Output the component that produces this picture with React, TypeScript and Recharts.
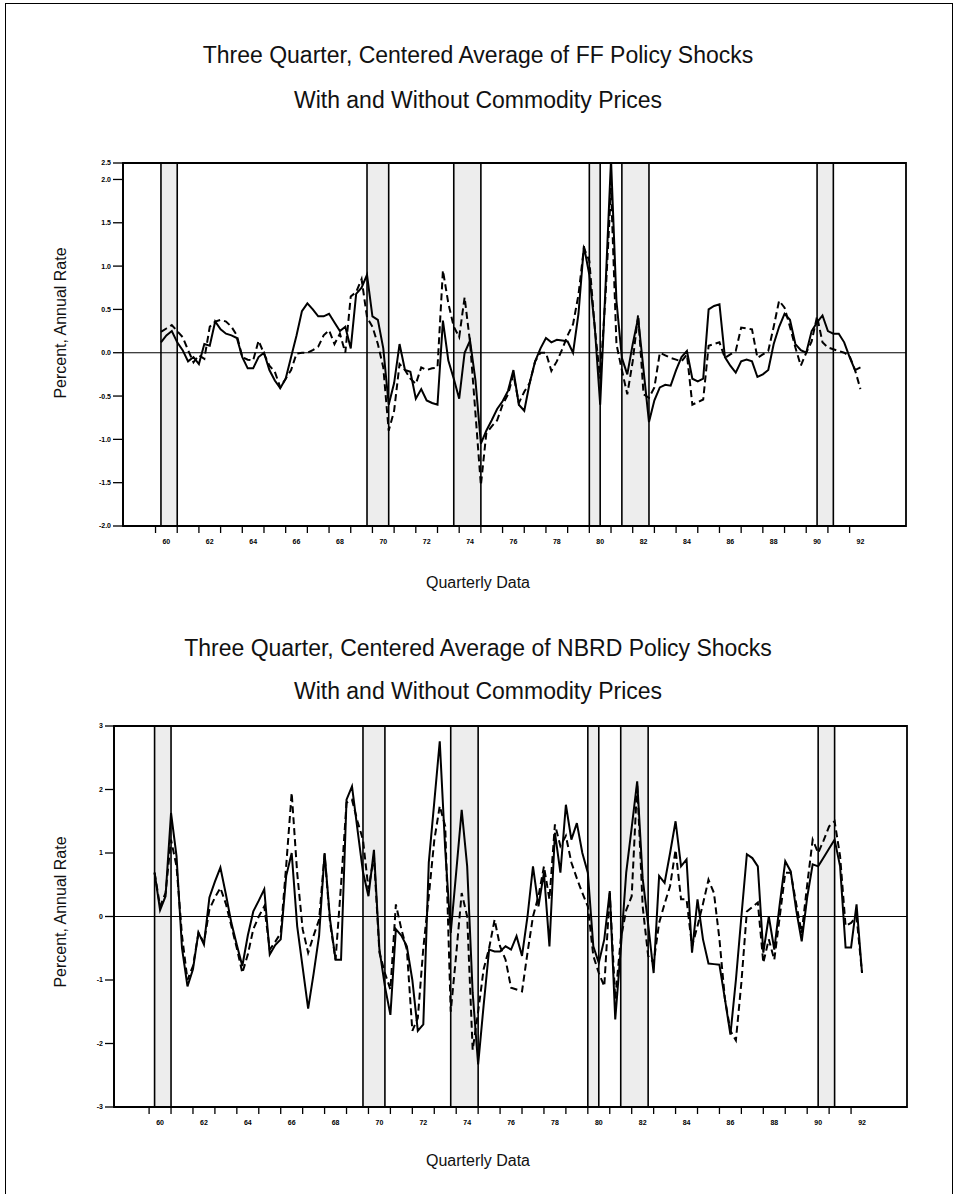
import React from "react";
import {
  ComposedChart,
  Line,
  XAxis,
  YAxis,
  ReferenceArea,
  ReferenceLine,
} from "recharts";

// first quarter plotted (1960 Q2), one value per quarter after it
const START = 1960.25;

const ffSolid = [
  0.12, 0.2, 0.25, 0.12, 0.03, -0.1, -0.05, -0.13, 0.1, 0.08,
  0.36, 0.27, 0.22, 0.2, 0.17, -0.05, -0.18, -0.18, -0.05, 0.0,
  -0.2, -0.32, -0.41, -0.3, -0.05, 0.2, 0.48, 0.57, 0.5, 0.42,
  0.42, 0.45, 0.35, 0.25, 0.3, 0.05, 0.68, 0.75, 0.9, 0.42,
  0.38, 0.05, -0.6, -0.35, 0.1, -0.2, -0.22, -0.53, -0.42, -0.55,
  -0.58, -0.6, 0.37, -0.09, -0.3, -0.53, 0.0, 0.14, -0.32, -1.05,
  -0.9, -0.78, -0.65, -0.56, -0.44, -0.2, -0.6, -0.67, -0.35, -0.1,
  0.05, 0.17, 0.12, 0.15, 0.14, 0.13, 0.0, 0.45, 1.23, 0.9,
  0.3, -0.6, 0.78, 2.23, 0.6, -0.06, -0.25, 0.1, 0.4, -0.2,
  -0.8, -0.55, -0.4, -0.37, -0.38, -0.2, -0.05, 0.02, -0.3, -0.33,
  -0.3, 0.5, 0.54, 0.56, -0.05, -0.15, -0.23, -0.1, -0.08, -0.1,
  -0.28, -0.25, -0.2, 0.1, 0.3, 0.45, 0.38, 0.1, 0.03, 0.0,
  0.25, 0.35, 0.43, 0.25, 0.22, 0.22, 0.12, -0.05, -0.2, -0.17,
];

const ffDashed = [
  0.24, 0.28, 0.32, 0.25, 0.18, 0.03, -0.11, -0.03, -0.07, 0.3,
  0.36, 0.38, 0.36, 0.3, 0.2, -0.05, -0.08, -0.09, 0.14, -0.01,
  -0.15, -0.22, -0.4, -0.3, -0.2, -0.01, 0.0, 0.0, 0.03, 0.07,
  0.2, 0.26, 0.1, 0.22, 0.0, 0.65, 0.7, 0.85, 0.41, 0.3,
  0.1, -0.17, -0.9, -0.67, -0.13, -0.2, -0.3, -0.36, -0.17, -0.2,
  -0.18, -0.17, 0.95, 0.57, 0.3, 0.18, 0.64, 0.12, -0.7, -1.53,
  -0.93, -0.85, -0.78, -0.6, -0.48, -0.25, -0.58, -0.45, -0.35, -0.1,
  0.0, 0.0, -0.21, -0.1, 0.04, 0.2, 0.33, 0.67, 1.21, 1.06,
  0.29, -0.3, 0.67, 1.9, 0.1, -0.2, -0.48, -0.1, 0.44, -0.48,
  -0.52, -0.4, 0.0, -0.03, -0.06, -0.08, -0.1, -0.02, -0.6, -0.57,
  -0.54, 0.08, 0.1, 0.12, -0.06, -0.02, 0.02, 0.29, 0.28, 0.27,
  -0.06, -0.02, 0.02, 0.3, 0.6, 0.52, 0.3, 0.06, -0.15, 0.0,
  0.13, 0.42, 0.12, 0.06, 0.04, 0.02, 0.0, -0.04, -0.2, -0.42,
];

const nbrdSolid = [
  0.69, 0.1, 0.32, 1.63, 0.95, -0.5, -1.1, -0.83, -0.25, -0.44,
  0.3, 0.55, 0.77, 0.35, -0.1, -0.45, -0.78, -0.3, 0.08, 0.25,
  0.43, -0.6, -0.45, -0.36, 0.64, 1.0, -0.15, -0.8, -1.45, -0.9,
  -0.3, 1.0, -0.05, -0.68, -0.68, 1.84, 2.05, 1.37, 0.7, 0.32,
  1.05, -0.52, -1.1, -1.55, -0.2, -0.3, -0.47, -1.0, -1.8, -1.7,
  0.85, 1.8, 2.76, 1.05, -0.26, 0.7, 1.68, 0.79, -1.2, -2.33,
  -1.4, -0.52, -0.55, -0.55, -0.47, -0.52, -0.31, -0.62, 0.0, 0.79,
  0.16, 0.69, -0.47, 1.32, 0.69, 1.76, 1.21, 1.47, 1.0, 0.69,
  -0.47, -0.73, -0.36, 0.4, -1.62, -0.52, 0.69, 1.4, 2.13, 0.6,
  -0.12, -0.89, 0.64, 0.53, 1.0, 1.5, 0.79, 0.9, -0.57, 0.27,
  -0.36, -0.74, -0.75, -0.76, -1.3, -1.86, -1.0, 0.0, 0.98, 0.92,
  0.79, -0.57, 0.0, -0.52, 0.2, 0.87, 0.71, 0.1, -0.39, 0.3,
  0.82, 0.79, 0.93, 1.07, 1.21, 0.79, -0.49, -0.49, 0.19, -0.89,
];

const nbrdDashed = [
  0.69, 0.16, 0.37, 1.21, 0.79, -0.3, -1.0, -0.78, -0.26, -0.41,
  0.11, 0.3, 0.45, 0.2, -0.15, -0.5, -0.89, -0.6, -0.2, 0.0,
  0.16, -0.52, -0.4, -0.26, 0.8, 1.95, 0.69, -0.2, -0.57, -0.3,
  -0.05, 0.98, -0.1, -0.68, 0.5, 1.79, 1.84, 1.5, 1.21, 0.43,
  0.95, -0.57, -0.89, -1.15, 0.19, -0.2, -0.52, -1.8, -1.6, -0.5,
  0.32, 1.2, 1.74, 1.42, -1.5, -0.6, 0.37, 0.0, -2.1, -1.5,
  -0.83, -0.5, -0.05, -0.47, -0.68, -1.12, -1.15, -1.18, -0.57, 0.0,
  0.32, 0.79, 0.27, 1.45, 1.11, 1.27, 0.85, 0.6, 0.37, 0.16,
  -0.62, -0.89, -1.1, 0.37, -1.3, -0.36, 0.1, 0.32, 2.1, 0.16,
  -0.62, -0.73, -0.1, 0.2, 0.48, 1.05, 0.27, 0.27, -0.47, -0.15,
  0.2, 0.58, 0.37, -0.36, -1.3, -1.8, -1.95, -1.04, 0.08, 0.15,
  0.22, -0.73, -0.36, -0.68, 0.0, 0.69, 0.69, 0.2, -0.26, 0.5,
  1.21, 1.0, 1.2, 1.42, 1.5, 0.95, -0.15, -0.1, 0.0, -0.89,
];

// NBER recessions, peak to trough
const recessions: [number, number][] = [
  [1960.25, 1961.0],
  [1969.75, 1970.75],
  [1973.75, 1975.0],
  [1980.0, 1980.5],
  [1981.5, 1982.75],
  [1990.5, 1991.25],
];

const yearTicks = [
  1960, 1961, 1962, 1963, 1964, 1965, 1966, 1967, 1968, 1969, 1970,
  1971, 1972, 1973, 1974, 1975, 1976, 1977, 1978, 1979, 1980, 1981,
  1982, 1983, 1984, 1985, 1986, 1987, 1988, 1989, 1990, 1991, 1992,
];

const ffTicks = [-2, -1.5, -1, -0.5, 0, 0.5, 1, 1.5, 2, 2.19];
const nbrdTicks = [-3, -2, -1, 0, 1, 2, 3];

const FONT = '"Liberation Sans", Arial, Helvetica, sans-serif';

function buildRows(solid: number[], dashed: number[]) {
  return solid.map((v, i) => ({ t: START + i / 4, solid: v, dashed: dashed[i] }));
}

interface PanelProps {
  top: number;
  height: number;
  margin: { top: number; right: number; bottom: number; left: number };
  xDomain: [number, number];
  yDomain: [number, number];
  yTicks: number[];
  yFormat: (v: number) => string;
  tickLen: number;
  rows: { t: number; solid: number; dashed: number }[];
}

function Panel({ top, height, margin, xDomain, yDomain, yTicks, yFormat, tickLen, rows }: PanelProps) {
  const plotW = 956 - margin.left - margin.right - 40;
  const halfYear = (plotW / (xDomain[1] - xDomain[0])) / 2;

  const xTick = (p: any) => {
    const yr = p.payload.value;
    if (yr % 2 !== 0) return <g />;
    return (
      <text
        x={p.x + halfYear}
        y={p.y + 9}
        textAnchor="middle"
        fontSize={7}
        fontWeight="bold"
        fontFamily={FONT}
        fill="#000"
      >
        {String(yr).slice(2)}
      </text>
    );
  };

  return (
    <div style={{ position: "absolute", left: 0, top, width: 956, height }}>
      <ComposedChart width={956} height={height} data={rows} margin={margin}>
        <XAxis
          dataKey="t"
          type="number"
          domain={xDomain}
          ticks={yearTicks}
          allowDataOverflow
          tick={xTick}
          tickSize={7}
          tickLine={{ stroke: "#000", strokeWidth: 1.3 }}
          axisLine={{ stroke: "#000", strokeWidth: 1.8 }}
          height={30}
          interval={0}
        />
        <YAxis
          type="number"
          domain={yDomain}
          ticks={yTicks}
          allowDataOverflow
          width={40}
          tickSize={tickLen}
          tickFormatter={yFormat}
          tick={{ fontSize: 7, fontWeight: "bold", fill: "#000", fontFamily: FONT }}
          tickLine={{ stroke: "#000", strokeWidth: 1.3 }}
          axisLine={{ stroke: "#000", strokeWidth: 1.8 }}
          interval={0}
        />
        {recessions.map(([a, b]) => (
          <ReferenceArea key={"a" + a} x1={a} x2={b} fill="#ededed" fillOpacity={1} stroke="none" />
        ))}
        {recessions.map(([a, b]) => [
          <ReferenceLine key={"l" + a} x={a} stroke="#000" strokeWidth={1.6} />,
          <ReferenceLine key={"r" + b} x={b} stroke="#000" strokeWidth={1.6} />,
        ])}
        <ReferenceLine y={0} stroke="#000" strokeWidth={1.2} />
        <ReferenceArea
          x1={xDomain[0]}
          x2={xDomain[1]}
          y1={yDomain[0]}
          y2={yDomain[1]}
          fill="none"
          stroke="#000"
          strokeWidth={1.8}
        />
        <Line
          dataKey="dashed"
          type="linear"
          stroke="#000"
          strokeWidth={2}
          strokeDasharray="7 4"
          dot={false}
          isAnimationActive={false}
        />
        <Line
          dataKey="solid"
          type="linear"
          stroke="#000"
          strokeWidth={2}
          dot={false}
          isAnimationActive={false}
        />
      </ComposedChart>
    </div>
  );
}

const textStyle: React.CSSProperties = {
  position: "absolute",
  left: 0,
  width: 956,
  textAlign: "center",
  fontFamily: FONT,
  color: "#111",
  whiteSpace: "nowrap",
  lineHeight: "26px",
};

function YLabel({ centerY }: { centerY: number }) {
  return (
    <div
      style={{
        position: "absolute",
        left: 61 - 100,
        top: centerY - 10,
        width: 200,
        height: 20,
        lineHeight: "20px",
        textAlign: "center",
        fontFamily: FONT,
        fontSize: 16,
        color: "#111",
        transform: "rotate(-90deg)",
      }}
    >
      Percent, Annual Rate
    </div>
  );
}

export default function App() {
  return (
    <div
      style={{
        position: "absolute",
        left: 0,
        top: 0,
        width: 956,
        height: 1203,
        background: "#fff",
        overflow: "hidden",
      }}
    >
      <div
        style={{
          position: "absolute",
          left: 5,
          top: 3,
          width: 946,
          height: 1190,
          borderLeft: "1.5px solid #000",
          borderTop: "1.5px solid #000",
          borderRight: "1.5px solid #000",
        }}
      />
      <div style={{ ...textStyle, top: 42, fontSize: 23 }}>
        Three Quarter, Centered Average of FF Policy Shocks
      </div>
      <div style={{ ...textStyle, top: 87, fontSize: 23 }}>
        With and Without Commodity Prices
      </div>
      <YLabel centerY={323} />
      <Panel
        top={140}
        height={420}
        margin={{ top: 23, right: 50, bottom: 4, left: 83 }}
        xDomain={[1958.5, 1994.6]}
        yDomain={[-2, 2.19]}
        yTicks={ffTicks}
        yFormat={(v) => (v > 2.1 ? "2.5" : v.toFixed(1))}
        tickLen={10}
        rows={buildRows(ffSolid, ffDashed)}
      />
      <div style={{ ...textStyle, top: 570, fontSize: 16 }}>Quarterly Data</div>

      <div style={{ ...textStyle, top: 635, fontSize: 23 }}>
        Three Quarter, Centered Average of NBRD Policy Shocks
      </div>
      <div style={{ ...textStyle, top: 678, fontSize: 23 }}>
        With and Without Commodity Prices
      </div>
      <YLabel centerY={912} />
      <Panel
        top={700}
        height={440}
        margin={{ top: 26, right: 49, bottom: 3, left: 74 }}
        xDomain={[1958.4, 1994.55]}
        yDomain={[-3, 3]}
        yTicks={nbrdTicks}
        yFormat={(v) => String(v)}
        tickLen={9}
        rows={buildRows(nbrdSolid, nbrdDashed)}
      />
      <div style={{ ...textStyle, top: 1148, fontSize: 16 }}>Quarterly Data</div>
    </div>
  );
}
